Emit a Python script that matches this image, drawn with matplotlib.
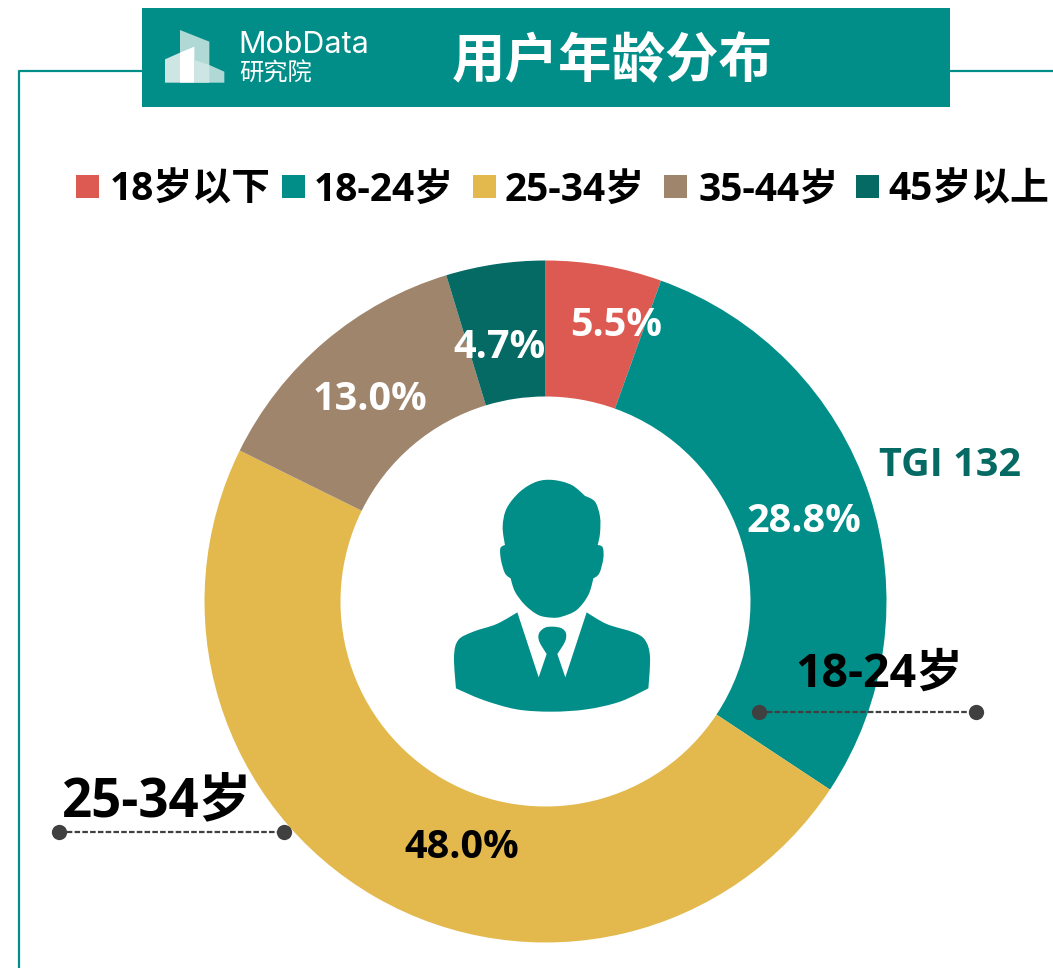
import matplotlib
matplotlib.use("Agg")
import matplotlib.pyplot as plt
from matplotlib.patches import Rectangle, Polygon, PathPatch
from matplotlib.path import Path

W, H = 1053, 968
FONT = ['Open Sans', 'Noto Sans CJK SC', 'DejaVu Sans']
CJK = ['Noto Sans CJK SC', 'DejaVu Sans']

categories = ['18岁以下', '18-24岁', '25-34岁', '35-44岁', '45岁以上']
values = [5.5, 28.8, 48.0, 13.0, 4.7]
colors = ['#DC5A51', '#018E89', '#E3B94E', '#A0856D', '#066A64']
label_colors = ['white', 'white', 'black', 'white', 'white']
title = '用户年龄分布'
TEAL = '#018E89'

fig = plt.figure(figsize=(W / 100, H / 100), dpi=100, facecolor='white')

cx, cy, R = 545.5, 601.5, 341
pie_ax = fig.add_axes([(cx - R) / W, 1 - (cy + R) / H, 2 * R / W, 2 * R / H])
wedges, _ = pie_ax.pie(values, colors=colors, startangle=90, counterclock=False, radius=1,
                       wedgeprops=dict(width=136 / 341, edgecolor='none'))
pie_ax.set_xlim(-1, 1)
pie_ax.set_ylim(-1, 1)
pie_ax.set_aspect('equal')

ax = fig.add_axes([0, 0, 1, 1], facecolor='none')
ax.set_xlim(0, W)
ax.set_ylim(H, 0)
ax.axis('off')

# Frame lines
ax.plot([142, 19, 19], [71, 71, H], color=TEAL, lw=1.6, solid_capstyle='butt')
ax.plot([950, W], [71, 71], color=TEAL, lw=1.6, solid_capstyle='butt')

# Banner
ax.add_patch(Rectangle((142, 8), 808, 99, color=TEAL, lw=0, zorder=3))
ax.text(612, 62, title, color='white', fontsize=38.5, fontweight='bold', family=CJK,
        ha='center', va='center', zorder=4)


def zpoly(points, ox, oy, **kw):
    return Polygon([(ox + x / 3, oy + y / 3) for x, y in points], closed=True, lw=0, **kw)


def smooth_patch(points, corners, ox, oy, **kw):
    """Closed smooth outline through points; indices in corners stay sharp."""
    pts = [(ox + x / 3, oy + y / 3) for x, y in points]
    n = len(pts)
    verts = [pts[0]]
    codes = [Path.MOVETO]
    for i in range(n):
        p0, p1, p2, p3 = pts[i - 1], pts[i], pts[(i + 1) % n], pts[(i + 2) % n]
        t1 = (0, 0) if i in corners else ((p2[0] - p0[0]) / 6, (p2[1] - p0[1]) / 6)
        t2 = (0, 0) if (i + 1) % n in corners else ((p3[0] - p1[0]) / 6, (p3[1] - p1[1]) / 6)
        verts += [(p1[0] + t1[0], p1[1] + t1[1]), (p2[0] - t2[0], p2[1] - t2[1]), p2]
        codes += [Path.CURVE4] * 3
    return PathPatch(Path(verts, codes), lw=0, **kw)


# Logo
ax.add_patch(zpoly([(120, 90), (208, 125), (208, 195), (253, 215), (253, 248), (120, 248)], 140, 0,
                   color='#B0D9D6', zorder=4))
ax.add_patch(zpoly([(75, 178), (120, 158), (120, 248), (75, 248)], 140, 0, color='#CDE6E4', zorder=5))
ax.add_patch(zpoly([(120, 158), (163, 140), (163, 248), (120, 248)], 140, 0, color='white', zorder=5))
ax.add_patch(zpoly([(163, 180), (208, 195), (208, 248), (163, 248)], 140, 0, color='#CDE6E4', zorder=5))
ax.text(238, 45, 'MobData', color='white', fontsize=22, family='Inter', ha='left', va='center', zorder=5)
ax.text(239, 74, '研究院', color='white', fontsize=17.5, family=CJK, ha='left', va='center', zorder=5)

# Legend
swatch_x = [76, 282, 473, 664, 856]
text_x = [110, 314, 505, 698, 888]
for c, sx, tx, lab in zip(colors, swatch_x, text_x, categories):
    ax.add_patch(Rectangle((sx, 175), 23, 23, color=c, lw=0))
    ax.text(tx, 190, lab, fontsize=28, fontweight='bold', family=FONT, ha='left', va='center', color='black')

# Percent labels
lab_pos = [(616, 326), (804, 521), (462, 847), (370, 399), (499, 347)]
for v, (x, y), c in zip(values, lab_pos, label_colors):
    ax.text(x, y, f'{v:.1f}%', color=c, fontsize=28.5, fontweight='bold', family=FONT,
            ha='center', va='center')

ax.text(950, 466, 'TGI 132', color='#066A64', fontsize=28.5, fontweight='bold', family=FONT,
        ha='center', va='center')

# Callouts
for x0, x1, y, tx, ty, lab, fs in [(759, 976, 712, 879, 674, '18-24岁', 33.5),
                                   (59, 284, 832, 157, 802, '25-34岁', 38)]:
    ax.plot([x0, x1], [y, y], color='#404040', lw=1.6, ls=(0, (2.5, 1)))
    ax.plot([x0, x1], [y, y], 'o', color='#404040', ms=11, mew=0)
    ax.text(tx, ty, lab, fontsize=fs, fontweight='bold', family=FONT, ha='center', va='center', color='black')

# Person icon
head = [(195, 225), (188, 170), (200, 115), (240, 65), (290, 35), (340, 30), (395, 45), (435, 78),
        (465, 95), (480, 140), (480, 190), (473, 225), (488, 232), (490, 265), (478, 310), (460, 325),
        (445, 375), (410, 420), (365, 440), (335, 443), (295, 435), (255, 405), (225, 365), (212, 325),
        (195, 310), (183, 270), (181, 235)]
body = [(232, 427), (296, 622), (320, 552), (298, 515), (297, 490), (315, 473), (340, 470), (365, 475),
        (378, 490), (375, 515), (352, 552), (376, 622), (440, 427), (500, 462), (580, 487), (615, 510),
        (630, 560), (625, 655), (540, 695), (440, 718), (335, 725), (230, 718), (130, 690), (48, 655),
        (42, 560), (55, 510), (100, 485), (170, 462)]
ax.add_patch(smooth_patch(head, {0, 7, 11, 15, 23}, 440, 470, color=TEAL))
ax.add_patch(smooth_patch(body, {0, 1, 2, 10, 11, 12, 17, 23}, 440, 470, color=TEAL))

fig.savefig('out.png', dpi=100, facecolor='white')
